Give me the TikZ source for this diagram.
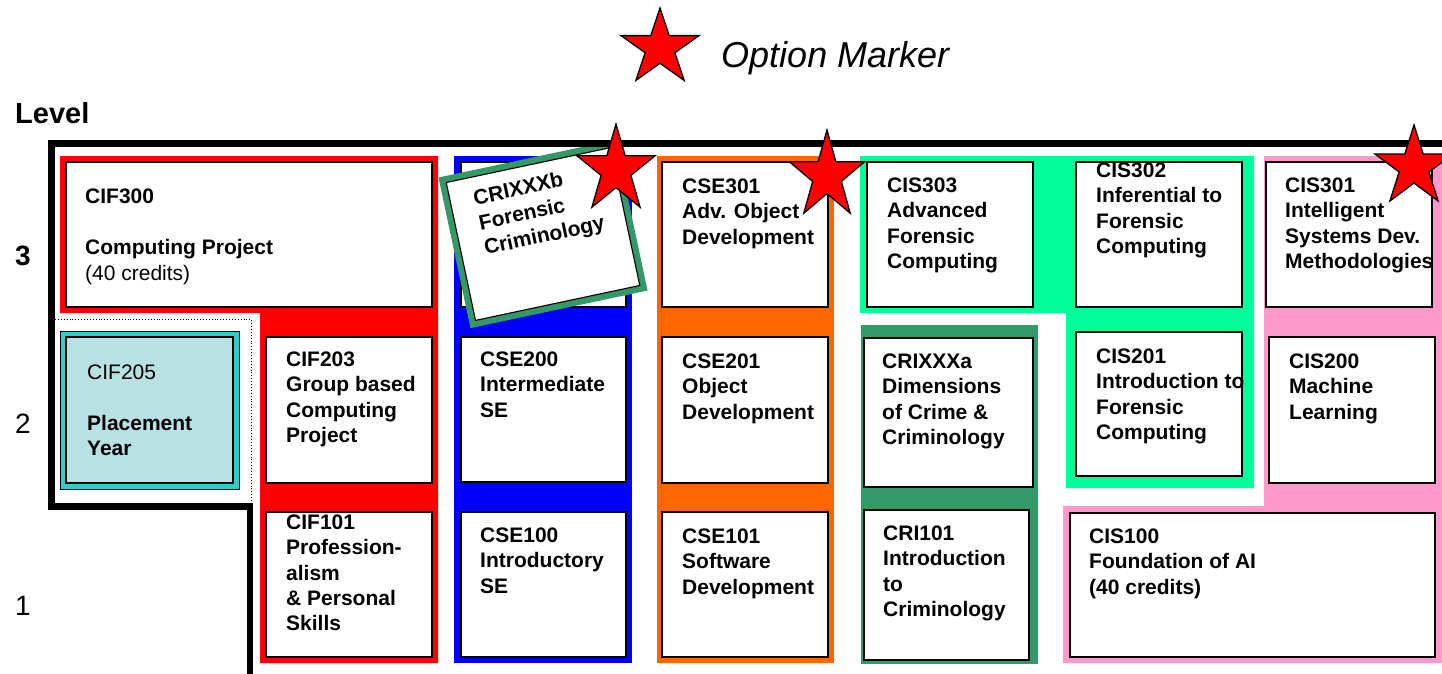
\documentclass[tikz,border=0pt]{standalone}
\usepackage{fontspec}
\setmainfont{Liberation Sans}
\usetikzlibrary{calc}
\definecolor{cred}{HTML}{FF0000}
\definecolor{cblue}{HTML}{0000FF}
\definecolor{corange}{HTML}{FF6600}
\definecolor{cgreen}{HTML}{00FF99}
\definecolor{cdkgreen}{HTML}{339966}
\definecolor{cpink}{HTML}{FF99CC}
\definecolor{cteal}{HTML}{33CCCC}
\definecolor{cltblue}{HTML}{B9E0E2}
\tikzset{
  modbox/.style={draw=black, line width=1.8pt, fill=white, inner sep=0pt, rectangle},
  modtxt/.style={font=\bfseries\fontsize{21}{25.4}\selectfont, align=left, inner sep=0pt, anchor=north west, text=black},
  lvltxt/.style={font=\fontsize{28}{32}\selectfont, inner sep=0pt, anchor=base west},
  optstar/.style={fill=cred, draw=black, line width=1.3pt, line join=miter},
  levelline/.style={draw=black, line width=6.5pt, line join=miter},
}
\newcommand\modbox[6][]{\node[modbox,#1, minimum width={#5pt-#3pt}, minimum height={#6pt-#4pt}] (#2) at ({(#3+#5)/2},{(#4+#6)/2}) {};}
\newcommand\modtext[4]{\node[modtxt] (#1) at (#2,{#3-16}) {\rule{0pt}{16pt}#4};}
\newcommand\optionstar[4]{\begin{scope}[shift={(#1,#2)}, xscale=#3, yscale=#4]
\draw[optstar] (-90:1) -- (-54:0.382) -- (-18:1) -- (18:0.382) -- (54:1) -- (90:0.382) -- (126:1) -- (162:0.382) -- (198:1) -- (234:0.382) -- cycle;
\end{scope}}
\begin{document}
\begin{tikzpicture}[x=1pt,y=-1pt]
\useasboundingbox (0,0) rectangle (1442,673);
\clip (0,0) rectangle (1442,673);
% coloured regions
\fill[cred] (60,156) -- (438,156) -- (438,663) -- (260,663) -- (260,313) -- (60,313) -- cycle;
\fill[cblue] (454,156) rectangle (632,663);
\fill[corange] (657,156) rectangle (834,663);
\fill[cgreen] (860,156) -- (1254,156) -- (1254,488) -- (1066,488) -- (1066,313) -- (860,313) -- cycle;
\fill[cdkgreen] (861,325) rectangle (1038,664);
\fill[cpink] (1264,156) -- (1442,156) -- (1442,663) -- (1063,663) -- (1063,506) -- (1264,506) -- cycle;
% dotted placement outline
\coordinate (dA) at (55,319);
\coordinate (dB) at (251,319);
\coordinate (dC) at (251,504);
\draw[black, line width=0.9pt, dotted] (dA) -- (dB) -- (dC);
% module boxes
\modbox{cif300}{66}{162}{432}{307}
\modbox{blue3}{461}{162}{626}{307}
\modbox{cse301}{662}{162}{828}{307}
\modbox{cis303}{867}{162}{1033}{307}
\modbox{cis302}{1076}{162}{1242}{307}
\modbox{cis301}{1266}{162}{1432}{307}
\modbox{cif203}{266}{337}{432}{483}
\modbox{cse200}{461}{337}{626}{482}
\modbox{cse201}{662}{337}{828}{483}
\modbox{crixxxa}{864}{338}{1033}{487}
\modbox{cis201}{1076}{332}{1242}{476}
\modbox{cis200}{1269}{337}{1435}{483}
\modbox{cif101}{266}{512}{432}{657}
\modbox{cse100}{461}{512}{626}{657}
\modbox{cse101}{662}{512}{828}{657}
\modbox{cri101}{864}{510}{1029}{660}
\modbox{cis100}{1070}{513}{1435}{657}
% placement year box
\modbox[fill=cteal, line width=0.8pt]{cif205o}{60}{331}{239}{489}
\modbox[fill=cltblue]{cif205}{66}{337}{233}{483}
% texts
\modtext{cif300t}{85}{203}{CIF300\\ \mbox{}\\Computing Project\\[1.5pt]{\mdseries (40 credits)}}
\modtext{cif205t}{87}{379}{{\mdseries CIF205}\\ \mbox{}\\Placement\\Year}
\modtext{cif203t}{286}{366}{CIF203\\Group based\\Computing\\Project}
\modtext{cif101t}{286}{529}{CIF101\\Profession-\\alism\\\& Personal\\Skills}
\modtext{cse200t}{480}{366}{CSE200\\Intermediate\\SE}
\modtext{cse100t}{480}{542}{CSE100\\Introductory\\SE}
\modtext{cse301t}{682}{193}{CSE301\\Adv. Object\\Development}
\modtext{cse201t}{682}{368}{CSE201\\Object\\Development}
\modtext{cse101t}{682}{543}{CSE101\\Software\\Development}
\modtext{cis303t}{887}{192}{CIS303\\Advanced\\Forensic\\Computing}
\modtext{crixxxat}{882}{368}{CRIXXXa\\Dimensions\\of Crime \&\\Criminology}
\modtext{cri101t}{883}{540}{CRI101\\Introduction\\to\\Criminology}
\modtext{cis302t}{1096}{177}{CIS302\\Inferential to\\Forensic\\Computing}
\modtext{cis201t}{1096}{363}{CIS201\\Introduction to\\Forensic\\Computing}
\modtext{cis301t}{1285}{192}{CIS301\\Intelligent\\Systems Dev.\\Methodologies}
\modtext{cis200t}{1289}{368}{CIS200\\Machine\\Learning}
\modtext{cis100t}{1089}{543}{CIS100\\Foundation of AI\\(40 credits)}
% rotated option module
\begin{scope}[shift={(543,234)}, rotate=12, transform shape]
\node[draw=cdkgreen, line width=6pt, fill=white, minimum width=175pt, minimum height=148pt, inner sep=0pt] (crixxxb) at (0,0) {};
\node[draw=black, line width=1.2pt, minimum width=168pt, minimum height=141pt, inner sep=0pt] (crixxxbi) at (0,0) {};
\node[modtxt] (crixxxbt) at (-60.5,-58.5) {\rule{0pt}{16pt}CRIXXXb\\Forensic\\Criminology};
\end{scope}
% level frame
\coordinate (f1) at (1450,143.5);
\coordinate (f2) at (51.5,143.5);
\coordinate (f3) at (51.5,506.5);
\coordinate (f4) at (250,506.5);
\coordinate (f5) at (250,680);
\draw[levelline] (f1) -- (f2) -- (f3) -- (f4) -- (f5);
% labels
\node[lvltxt, font=\bfseries\fontsize{29}{33}\selectfont] (level) at (15,123) {Level};
\node[lvltxt, font=\bfseries\fontsize{28}{32}\selectfont] (l3) at (15,265) {3};
\node[lvltxt] (l2) at (15,433) {2};
\node[lvltxt] (l1) at (15,615) {1};
% option marker legend
\optionstar{660}{48}{41}{40}
\node[font=\itshape\fontsize{36}{40}\selectfont, inner sep=0pt, anchor=base west] (optlabel) at (721,67) {Option Marker};
% option stars
\optionstar{616}{170}{41}{46}
\optionstar{827}{176}{39.5}{46}
\optionstar{1414}{167}{41}{42}
\end{tikzpicture}
\end{document}
